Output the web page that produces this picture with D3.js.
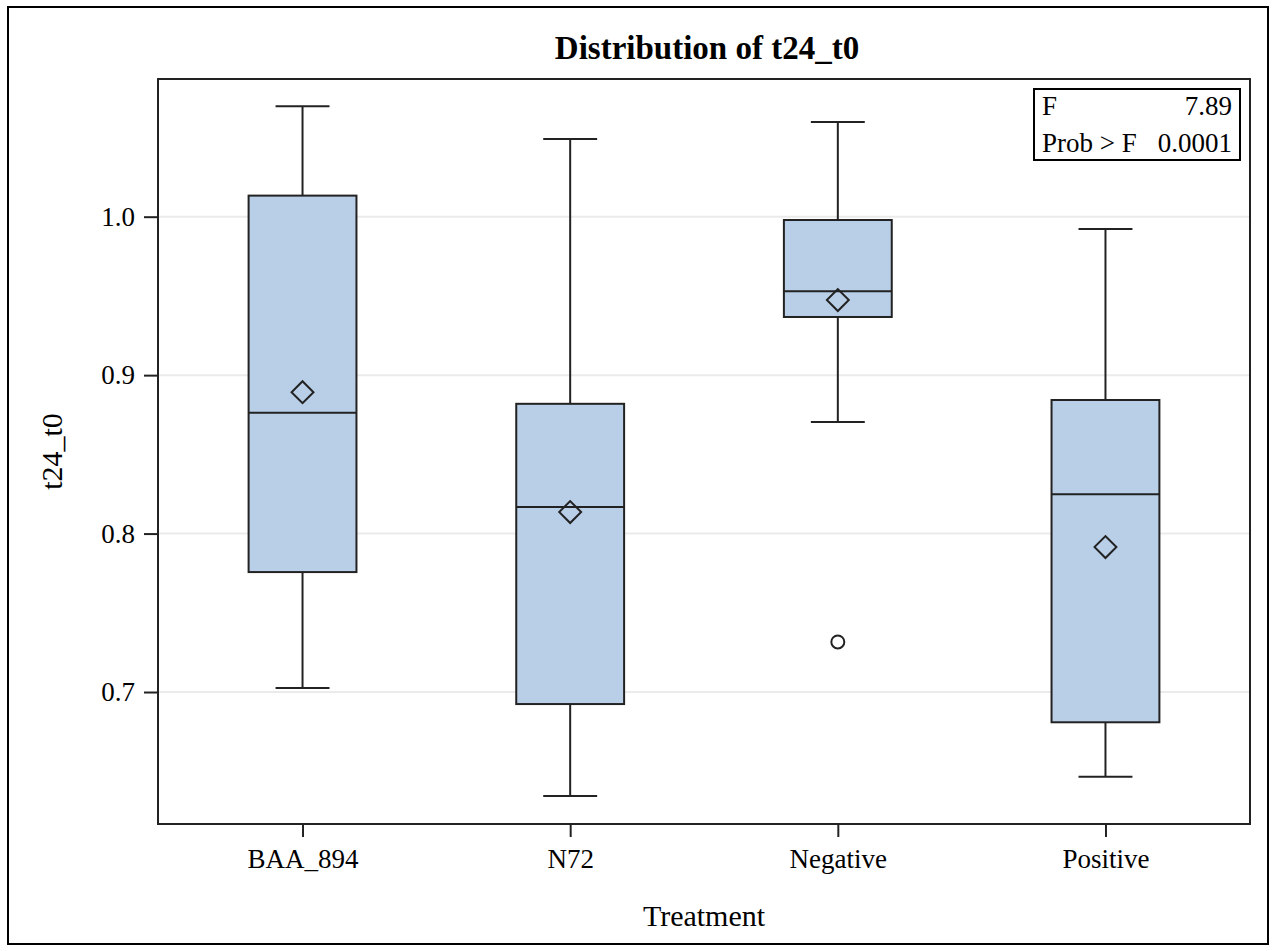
<!DOCTYPE html>
<html>
<head>
<meta charset="utf-8">
<script src="https://cdn.jsdelivr.net/npm/d3@7"></script>
<style>
  body { margin: 0; background: #fff; }
  text { font-family: "Liberation Serif", "Times New Roman", serif; fill: #000; }
</style>
</head>
<body>
<script>
// values
var treatments = ["BAA_894", "N72", "Negative", "Positive"];
var whiskerHigh = [1.0697, 1.0490, 1.0597, 0.9922];
var q3 = [1.0133, 0.8819, 0.9979, 0.8843];
var medians = [0.8763, 0.8167, 0.9529, 0.8248];
var means = [0.8892, 0.8136, 0.9474, 0.7915];
var q1 = [0.7757, 0.6924, 0.9367, 0.6809];
var whiskerLow = [0.7025, 0.6344, 0.8704, 0.6465];
var outlierGroups = ["Negative"];
var outlierValues = [0.7316];
var yTicks = [0.7, 0.8, 0.9, 1.0];
var statLabels = ["F", "Prob > F"];
var statValues = ["7.89", "0.0001"];

var width = 1273,
        height = 951,
        margin = {top: 79, right: 23, bottom: 127, left: 158},
plotWidth = width - margin.left - margin.right,
        plotHeight = height - margin.top - margin.bottom;

var lineColor = "#222",
        boxFill = "#b9cfe8";

var svg = d3.select("body")
        .append("svg")
        .attr("width", width)
        .attr("height", height);

// outer border
svg.append("rect")
        .attr("x", 8).attr("y", 7)
        .attr("width", 1260).attr("height", 937)
        .attr("fill", "none")
        .attr("stroke", "#000")
        .attr("stroke-width", 2);

var x = d3.scalePoint().domain(treatments).range([0, plotWidth]).padding(0.54),
        y = d3.scaleLinear().domain([0.6167, 1.0869]).range([plotHeight, 0]);

var boxW = x.step() * 0.403;

var g = svg.append("g")
        .attr("transform", "translate(" + margin.left + "," + margin.top + ")");

// grid lines
g.selectAll(".grid")
        .data(yTicks)
        .enter().append("line")
        .attr("x1", 0).attr("x2", plotWidth)
        .attr("y1", function(d){return y(d);})
        .attr("y2", function(d){return y(d);})
        .attr("stroke", "#ebebeb")
        .attr("stroke-width", 2);

var rows = treatments.map(function(t, i){
    return {t: t, hi: whiskerHigh[i], q3: q3[i], med: medians[i], mean: means[i], q1: q1[i], lo: whiskerLow[i]};
});

var box = g.selectAll(".box")
        .data(rows)
        .enter().append("g")
        .classed("box", true)
        .attr("transform", function(d){return "translate(" + x(d.t) + ",0)";});

// whiskers
box.append("line")
        .attr("x1", 0).attr("x2", 0)
        .attr("y1", function(d){return y(d.hi);})
        .attr("y2", function(d){return y(d.q3);});
box.append("line")
        .attr("x1", 0).attr("x2", 0)
        .attr("y1", function(d){return y(d.q1);})
        .attr("y2", function(d){return y(d.lo);});
box.append("line")
        .attr("x1", -boxW / 4).attr("x2", boxW / 4)
        .attr("y1", function(d){return y(d.hi);})
        .attr("y2", function(d){return y(d.hi);});
box.append("line")
        .attr("x1", -boxW / 4).attr("x2", boxW / 4)
        .attr("y1", function(d){return y(d.lo);})
        .attr("y2", function(d){return y(d.lo);});

box.append("rect")
        .attr("x", -boxW / 2)
        .attr("width", boxW)
        .attr("y", function(d){return y(d.q3);})
        .attr("height", function(d){return y(d.q1) - y(d.q3);})
        .attr("fill", boxFill);

box.append("line")
        .attr("x1", -boxW / 2).attr("x2", boxW / 2)
        .attr("y1", function(d){return y(d.med);})
        .attr("y2", function(d){return y(d.med);});

box.append("path")
        .attr("d", d3.symbol(d3.symbolSquare, 240))
        .attr("transform", function(d){return "translate(0," + y(d.mean) + ") rotate(45)";})
        .attr("fill", "none");

box.selectAll("line, rect, path")
        .attr("stroke", lineColor)
        .attr("stroke-width", 2);

// outliers
g.selectAll(".outlier")
        .data(outlierValues)
        .enter().append("circle")
        .attr("cx", function(d, i){return x(outlierGroups[i]);})
        .attr("cy", function(d){return y(d);})
        .attr("r", 6.5)
        .attr("fill", "none")
        .attr("stroke", lineColor)
        .attr("stroke-width", 2);

// frame
g.append("rect")
        .attr("width", plotWidth)
        .attr("height", plotHeight)
        .attr("fill", "none")
        .attr("stroke", lineColor)
        .attr("stroke-width", 2);

// axes
var yAxis = g.append("g")
        .call(d3.axisLeft(y).tickValues(yTicks).tickFormat(d3.format(".1f")).tickSize(14).tickPadding(9));
var xAxis = g.append("g")
        .attr("transform", "translate(0," + plotHeight + ")")
        .call(d3.axisBottom(x).tickSize(13).tickPadding(12));

[xAxis, yAxis].forEach(function(a){
    a.select(".domain").remove();
    a.selectAll(".tick line").attr("stroke", lineColor).attr("stroke-width", 2);
    a.selectAll("text")
            .style("font-family", "'Liberation Serif', 'Times New Roman', serif")
            .style("font-size", "27px")
            .attr("fill", "#000");
});

// titles
svg.append("text")
        .attr("x", 707).attr("y", 59)
        .attr("text-anchor", "middle")
        .style("font-size", "33px")
        .style("font-weight", "bold")
        .text("Distribution of t24_t0");

svg.append("text")
        .attr("x", margin.left + plotWidth / 2).attr("y", 926)
        .attr("text-anchor", "middle")
        .style("font-size", "30px")
        .text("Treatment");

svg.append("text")
        .attr("transform", "translate(62," + (margin.top + plotHeight / 2) + ") rotate(-90)")
        .attr("text-anchor", "middle")
        .style("font-size", "30px")
        .text("t24_t0");

// stats inset
var inset = svg.append("g");
inset.append("rect")
        .attr("x", 1034).attr("y", 89)
        .attr("width", 206).attr("height", 71)
        .attr("fill", "#fff")
        .attr("stroke", "#000")
        .attr("stroke-width", 2);
inset.selectAll(".lab")
        .data(statLabels)
        .enter().append("text")
        .attr("x", 1042)
        .attr("y", function(d, i){return 115 + i * 37;})
        .style("font-size", "27px")
        .text(function(d){return d;});
inset.selectAll(".val")
        .data(statValues)
        .enter().append("text")
        .attr("x", 1232)
        .attr("y", function(d, i){return 115 + i * 37;})
        .attr("text-anchor", "end")
        .style("font-size", "27px")
        .text(function(d){return d;});
</script>
</body>
</html>
